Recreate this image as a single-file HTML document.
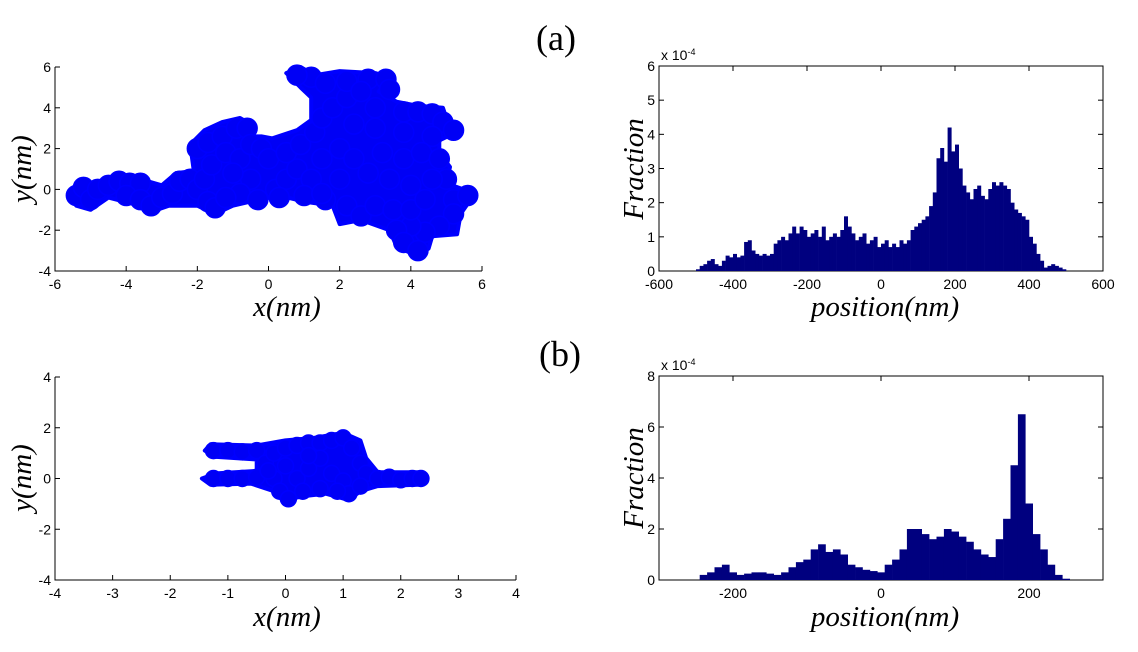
<!DOCTYPE html>
<html><head><meta charset="utf-8"><style>
body{margin:0;background:#fff;}
svg{display:block;font-family:"Liberation Sans",sans-serif;}
.tk{font-size:14px;fill:#000;}
.lab{font-family:"Liberation Serif",serif;font-style:italic;font-size:29px;fill:#000;}
.ttl{font-family:"Liberation Serif",serif;font-size:36px;fill:#000;}
</style></head><body>
<svg id="fig" width="1138" height="652" viewBox="0 0 1138 652" xmlns="http://www.w3.org/2000/svg">
<text class="ttl" x="556" y="50" text-anchor="middle">(a)</text>
<text class="ttl" x="560" y="366" text-anchor="middle">(b)</text>
<text class="lab" x="287" y="316" text-anchor="middle">x(nm)</text>
<text class="lab" x="287" y="626" text-anchor="middle">x(nm)</text>
<text class="lab" x="885" y="316" text-anchor="middle">position(nm)</text>
<text class="lab" x="885" y="626" text-anchor="middle">position(nm)</text>
<text class="lab" transform="translate(31,169) rotate(-90)" text-anchor="middle">y(nm)</text>
<text class="lab" transform="translate(31,478) rotate(-90)" text-anchor="middle">y(nm)</text>
<text class="lab" transform="translate(643,169) rotate(-90)" text-anchor="middle">Fraction</text>
<text class="lab" transform="translate(643,478) rotate(-90)" text-anchor="middle">Fraction</text>
<g id="layer"></g>
</svg>
<script>
// ---- data ----
const histATicksX=[-600,-400,-200,0,200,400,600];
const histATicksY=[0,1,2,3,4,5,6];
const histAStart=-500, histABin=10;
const histAValues=[0.05,0.15,0.2,0.3,0.35,0.2,0.15,0.3,0.45,0.4,
0.5,0.4,0.45,0.85,0.9,0.6,0.5,0.45,0.5,0.45,
0.5,0.8,0.9,1.0,0.9,1.1,1.3,1.1,1.3,1.2,
1.0,1.1,1.2,1.0,1.3,0.9,1.0,1.1,1.0,1.2,
1.6,1.3,1.1,0.9,1.0,1.1,0.8,0.9,1.0,0.7,
0.8,0.9,0.7,0.8,0.7,0.9,0.8,0.9,1.2,1.3,
1.4,1.5,1.6,1.9,2.3,3.3,3.6,3.2,4.2,3.5,
3.7,3.0,2.5,2.3,2.1,2.4,2.5,2.2,2.1,2.4,
2.6,2.5,2.6,2.5,2.4,2.0,1.8,1.7,1.6,1.5,
1.0,0.8,0.5,0.3,0.1,0.15,0.2,0.15,0.1,0.05];
const histBTicksX=[-200,0,200];
const histBTicksY=[0,2,4,6,8];
const histBStart=-245, histBBin=10;
const histBValues=[0.2,0.3,0.5,0.6,0.3,
0.2,0.25,0.3,0.3,0.25,
0.2,0.3,0.5,0.7,0.8,
1.2,1.4,1.1,1.2,1.0,
0.6,0.5,0.4,0.35,0.3,
0.6,0.8,1.2,2.0,2.0,
1.8,1.6,1.7,2.0,1.9,
1.7,1.5,1.2,1.0,0.9,
1.6,2.4,4.5,6.5,3.0,
1.8,1.2,0.6,0.2,0.05];
const scatterATicksX=[-6,-4,-2,0,2,4,6];
const scatterATicksY=[-4,-2,0,2,4,6];
const scatterAX=[-5.4,-5.2,-5.0,-4.8,-4.5,-4.2,-3.9,-3.6,-4.0,-3.6,-3.3,-3.0,-2.7,-2.5,-2.2,-2.0,-1.7,-1.5,-1.8,-1.6,-2.0,-1.7,-1.3,-0.9,-0.6,-1.2,-0.8,-0.5,-0.2,0,-0.5,-0.8,-0.3,0.2,0.5,0.8,0.5,0.9,1.3,1.5,1.8,2.2,1.2,0.8,1.6,2.2,2.8,3.3,3.4,2.6,3.0,3.8,4.2,4.6,4.9,5.2,4.6,3.8,3.0,2.4,2.0,1.5,1.2,1.0,1.6,2.2,2.6,3.0,3.5,3.4,2.8,2.4,3.2,3.8,4.3,4.8,5.0,4.6,4.0,5.2,5.6,5.2,4.8,4.4,4.0,3.6,3.8,4.2,4.0,4.4,2.0,1.5,0.3,-1.0,-1.2];
const scatterAY=[-0.3,0.1,-0.5,0,0.2,0.4,0.3,0.3,-0.3,-0.5,-0.8,-0.4,-0.2,0.4,0.5,0.0,-0.6,-0.9,0.5,1.2,2.0,2.3,2.6,3.0,3.0,1.8,1.5,2.2,2.0,1.5,0.5,-0.2,-0.5,0,0.5,1.0,1.8,2.2,2.8,3.5,4.0,4.5,5.5,5.6,5.2,5.3,5.4,5.4,4.9,4.8,4.0,3.8,3.8,3.7,3.3,2.9,2.6,2.8,3.0,3.2,2.0,1.5,0.5,-0.3,-0.5,-0.8,-1.3,-0.8,-1.0,0.5,0.8,1.5,1.8,1.5,1.8,1.5,0.5,0.5,0.2,-0.5,-0.3,-1.2,-1.8,-2.1,-1.8,-2.0,-2.6,-3.0,-1.0,-0.5,0.5,-0.2,-0.4,0.8,-0.4];
// envelope of the dense marker cloud
const hullAX=[-5.6,-5.4,-4.8,-4.3,-3.8,-3.4,-3.0,-2.6,-2.1,-2.2,-1.8,-1.3,-0.8,-0.5,-0.6,-0.2,0.1,0.8,1.2,1.2,0.9,0.5,0.9,1.3,2.0,3.0,3.4,3.1,3.6,4.2,4.9,5.0,5.4,4.8,4.8,5.1,5.0,5.8,5.4,5.3,4.6,4.5,4.1,3.6,3.4,2.6,2.0,1.8,1.0,0.3,-0.5,-1.0,-1.5,-2.0,-2.8,-3.3,-3.6,-4.5,-5.0,-5.4];
const hullAY=[-0.3,0.3,0.3,0.6,0.6,0.4,0.2,0.8,0.9,2.2,2.9,3.3,3.5,3.2,2.6,2.6,2.5,2.9,3.4,4.5,5.0,5.7,6.0,5.6,5.8,5.7,5.5,4.8,4.3,4.1,4.0,3.5,2.9,2.4,1.8,1.1,0.3,-0.2,-1.2,-2.2,-2.3,-2.9,-3.2,-2.8,-2.0,-1.5,-1.7,-0.8,-0.6,-0.3,-0.6,-0.8,-1.2,-0.8,-0.8,-1.1,-0.8,-0.4,-1.0,-0.8];
const scatterBTicksX=[-4,-3,-2,-1,0,1,2,3,4];
const scatterBTicksY=[-4,-2,0,2,4];
const scatterBX=[-1.25,-1.0,-0.75,-0.5,-1.25,-1.0,-0.75,-0.5,-0.35,-0.2,-0.2,-0.1,0,0,0.2,0.4,0.6,0.8,1.0,1.15,0.2,0.4,0.6,0.8,1.0,1.1,0.9,0.6,0.3,0.05,1.3,1.4,1.6,1.8,2.0,2.2,2.35,1.3,0.4,-0.3];
const scatterBY=[1.1,1.1,1.05,1.1,0,0,0,0.05,0.6,1.0,0,-0.5,0.5,1.2,1.3,1.4,1.4,1.5,1.6,1.2,0,0.4,0.8,0.2,-0.1,-0.6,-0.5,-0.4,-0.5,-0.8,0.6,0.2,0,0.05,-0.05,0,0,-0.3,0.9,0.3];
const hullBX=[-1.4,-1.3,-0.5,0,0.5,1.0,1.3,1.4,1.6,2.3,2.45,2.3,1.6,1.3,1.1,0.7,0.3,0,-0.2,-0.6,-1.3,-1.45,-1.2,-0.5,-0.5,-1.2];
const hullBY=[1.1,1.35,1.3,1.5,1.6,1.8,1.5,0.8,0.25,0.25,0,-0.25,-0.3,-0.5,-0.85,-0.6,-0.7,-0.85,-0.5,-0.2,-0.25,0,0.2,0.3,0.75,0.85];

const NS="http://www.w3.org/2000/svg";
const layer=document.getElementById('layer');
function mk(tag,attrs,parent){const e=document.createElementNS(NS,tag);for(const k in attrs)e.setAttribute(k,attrs[k]);(parent||layer).appendChild(e);return e;}
function scale(d0,d1,r0,r1){return v=>r0+(v-d0)/(d1-d0)*(r1-r0);}

function axes(o){
  const g=mk('g',{});
  
  
  const sx=scale(o.xd[0],o.xd[1],o.x0,o.x1), sy=scale(o.yd[0],o.yd[1],o.y0,o.y1);
  if(o.box){const r=mk('rect',{x:o.x0,y:o.y1,width:o.x1-o.x0,height:o.y0-o.y1,fill:'none',stroke:'#000','stroke-width':1},g);
    }
  else{mk('path',{d:`M${o.x0} ${o.y1}V${o.y0}H${o.x1}`,fill:'none',stroke:'#000','stroke-width':1},g);}
  o.tx.forEach(v=>{const x=sx(v);
    mk('line',{x1:x,x2:x,y1:o.y0,y2:o.y0-5,stroke:'#000'},g);
    if(o.box)mk('line',{x1:x,x2:x,y1:o.y1,y2:o.y1+5,stroke:'#000'},g);
    const t=mk('text',{x:x,y:o.y0+18,'text-anchor':'middle',class:'tk'},g);t.textContent=v;
    });
  o.ty.forEach(v=>{const y=sy(v);
    mk('line',{x1:o.x0,x2:o.x0+5,y1:y,y2:y,stroke:'#000'},g);
    if(o.box)mk('line',{x1:o.x1,x2:o.x1-5,y1:y,y2:y,stroke:'#000'},g);
    const t=mk('text',{x:o.x0-4,y:y+5,'text-anchor':'end',class:'tk'},g);t.textContent=v;
    });
  return {sx,sy,g};
}

function hist(o,start,bin,vals,name){
  const a=axes(o);
  const bars=mk('g',{});
  
  
  vals.forEach((v,i)=>{const xl=a.sx(start+i*bin), xr=a.sx(start+(i+1)*bin), y=a.sy(v);
    const r=mk('rect',{x:xl,y:y,width:xr-xl+0.3,height:a.sy(0)-y,fill:'#00007f'},bars);
    });
  const e=mk('text',{x:o.x0+2,y:o.y1-6,class:'tk','font-size':'11'});
  
  e.innerHTML='x 10<tspan dy="-5" font-size="9">-4</tspan>';
}
function scatter(o,xs,ys,hx,hy,r,name){
  const a=axes(o);
  const pts=mk('g',{});
  
  
  const d=hx.map((x,i)=>(i?'L':'M')+a.sx(x).toFixed(1)+' '+a.sy(hy[i]).toFixed(1)).join('')+'Z';
  const h=mk('path',{d:d,fill:'#0000f5',stroke:'#0000ff','stroke-width':4,'stroke-linejoin':'round'},pts);
  
  
  xs.forEach((x,i)=>{const c=mk('circle',{cx:a.sx(x),cy:a.sy(ys[i]),r:r,fill:'#0000f5',stroke:'#0000ff','stroke-width':1.5},pts);
    });
}
scatter({name:'scatter-a-axes',x0:55,x1:482,y0:271,y1:67,xd:[-6,6],yd:[-4,6],tx:scatterATicksX,ty:scatterATicksY,box:false},scatterAX,scatterAY,hullAX,hullAY,10,'trajectory-a');
scatter({name:'scatter-b-axes',x0:55,x1:516,y0:580,y1:377,xd:[-4,4],yd:[-4,4],tx:scatterBTicksX,ty:scatterBTicksY,box:false},scatterBX,scatterBY,hullBX,hullBY,8,'trajectory-b');
hist({name:'hist-a-axes',x0:659,x1:1103,y0:271,y1:66,xd:[-600,600],yd:[0,6],tx:histATicksX,ty:histATicksY,box:true},histAStart,histABin,histAValues,'histogram-a');
hist({name:'hist-b-axes',x0:659,x1:1103,y0:580,y1:376,xd:[-300,300],yd:[0,8],tx:histBTicksX,ty:histBTicksY,box:true},histBStart,histBBin,histBValues,'histogram-b');
</script>
</body></html>
